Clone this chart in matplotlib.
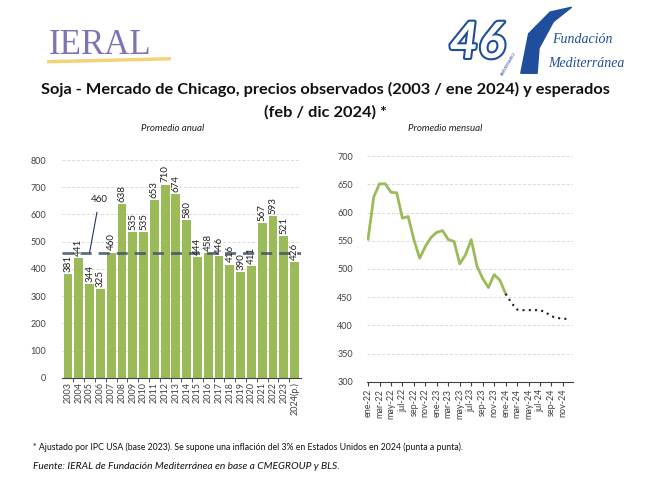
import numpy as np
import matplotlib.pyplot as plt
import matplotlib.patheffects as pe
from matplotlib.patches import Polygon
from matplotlib.ticker import MultipleLocator, FixedLocator

plt.rcParams['font.family'] = ['Lato', 'DejaVu Sans']

# promedio anual
anios = ["2003", "2004", "2005", "2006", "2007", "2008", "2009", "2010", "2011",
         "2012", "2013", "2014", "2015", "2016", "2017", "2018", "2019", "2020",
         "2021", "2022", "2023", "2024(p.)"]
precio_anual = [381, 441, 344, 325, 460, 638, 535, 535, 653, 710, 674, 580,
                444, 458, 446, 416, 390, 411, 567, 593, 521, 426]
promedio = 460

# promedio mensual
meses = ["ene", "feb", "mar", "abr", "may", "jun", "jul", "ago", "sep", "oct", "nov", "dic"]
etiquetas_mes = [m + "-" + a for a in ["22", "23", "24"] for m in meses]
observado = [553, 628, 651, 651, 636, 635, 590, 593, 552, 519, 540, 556,
             565, 568, 552, 549, 509, 525, 552, 505, 483, 467, 490, 480, 456]
esperado = [456, 440, 428, 427, 427, 427, 427, 423, 416, 413, 412, 411]

verde = "#9BBB59"
gris_txt = "#404040"
azul = "#1F4E9C"

fig = plt.figure(figsize=(6.51, 4.82), dpi=100)

# ---- barras
ax1 = fig.add_axes([0.0945, 0.216, 0.368, 0.452])
x = np.arange(len(anios))
ax1.bar(x, precio_anual, width=0.82, color=verde, zorder=2)
ax1.axhline(promedio, color="#44546A", lw=2, dashes=(4, 2.5), zorder=3, alpha=0.85)
for i, v in enumerate(precio_anual):
    ax1.text(i, v + 8, str(v), rotation=90, ha="center", va="bottom",
             fontsize=7, color="#202020", zorder=4)
ax1.annotate(str(promedio), xy=(2, promedio), xytext=(2.9, 655),
             ha="center", va="center", fontsize=7, color="#202020",
             arrowprops=dict(arrowstyle="-", color="#1F3864", lw=0.8, shrinkA=4, shrinkB=0))
ax1.set_xlim(-0.6, len(anios) - 0.4)
ax1.set_ylim(0, 800)
ax1.yaxis.set_major_locator(MultipleLocator(100))
ax1.set_xticks(x)
ax1.set_xticklabels(anios, rotation=90, fontsize=6.5, color=gris_txt)
ax1.xaxis.set_minor_locator(FixedLocator(x[:-1] + 0.5))
ax1.tick_params(axis="x", which="major", length=0, pad=3)
ax1.tick_params(axis="x", which="minor", length=3, color="#404040")
ax1.tick_params(axis="y", length=0, labelsize=6.5, labelcolor=gris_txt, pad=11)
ax1.grid(axis="y", color="#D9D9D9", ls=(0, (3, 2)), lw=0.7, zorder=0)
for s in ["top", "right", "left"]:
    ax1.spines[s].set_visible(False)
ax1.spines["bottom"].set_color("#404040")

# ---- lineas
ax2 = fig.add_axes([0.5636, 0.208, 0.317, 0.468])
xm = np.arange(len(etiquetas_mes))
ax2.plot(xm[:len(observado)], observado, color=verde, lw=2, zorder=3)
ax2.plot(xm[len(observado) - 1:], esperado, color="#202020", lw=1.5, ls=(0, (1, 2)), zorder=3)
ax2.set_xlim(-0.2, 35.8)
ax2.set_ylim(300, 700)
ax2.yaxis.set_major_locator(MultipleLocator(50))
ax2.set_xticks(xm[::2])
ax2.set_xticklabels(etiquetas_mes[::2], rotation=90, fontsize=6.5, color=gris_txt)
ax2.tick_params(axis="x", length=3, color="#404040", pad=2)
ax2.tick_params(axis="y", length=0, labelsize=6.5, labelcolor=gris_txt, pad=10)
ax2.grid(axis="y", color="#D9D9D9", ls=(0, (3, 2)), lw=0.7, zorder=0)
for s in ["top", "right", "left"]:
    ax2.spines[s].set_visible(False)
ax2.spines["bottom"].set_color("#404040")

fig.text(0.265, 0.734, "Promedio anual", fontsize=7, style="italic", color="#202020",
         ha="center", va="center")
fig.text(0.684, 0.734, "Promedio mensual", fontsize=7, style="italic", color="#202020",
         ha="center", va="center")

# ---- titulos y logos
fig.text(0.5, 0.815, "Soja - Mercado de Chicago, precios observados (2003 / ene 2024) y esperados",
         ha="center", va="center", fontsize=11.8, fontweight="bold", color="#111111")
fig.text(0.5, 0.767, "(feb / dic 2024) *", ha="center", va="center",
         fontsize=11.8, fontweight="bold", color="#111111")

fig.text(0.075, 0.905, "IERAL", fontsize=25, family="Liberation Serif", color="#7F72B5",
         va="center", ha="left")
fig.add_artist(plt.Line2D([0.075, 0.26], [0.872, 0.878], color="#F3D27A", lw=2.5))

fig.text(0.733, 0.91, "46", fontsize=36, fontweight="bold", style="italic",
         color="white", va="center", ha="center",
         path_effects=[pe.withStroke(linewidth=3, foreground=azul)])
fig.text(0.782, 0.868, "ANIVERSARIO", fontsize=3, color=azul, rotation=60,
         va="center", ha="center")
fig.add_artist(Polygon([(0.800, 0.848), (0.812, 0.93), (0.845, 0.975), (0.878, 0.985),
                        (0.850, 0.955), (0.828, 0.90), (0.825, 0.848)],
                       closed=True, transform=fig.transFigure, color=azul))
fig.text(0.895, 0.918, "Fundación", fontsize=10, style="italic",
         family="Liberation Serif", color=azul, va="center", ha="center")
fig.text(0.9, 0.868, "Mediterránea", fontsize=10, style="italic",
         family="Liberation Serif", color=azul, va="center", ha="center")

fig.text(0.05, 0.072, "* Ajustado por IPC USA (base 2023). Se supone una inflación del 3% "
         "en Estados Unidos en 2024 (punta a punta).", fontsize=6.3, color="#111111",
         va="center", ha="left")
fig.text(0.05, 0.033, "Fuente: IERAL de Fundación Mediterránea en base a CMEGROUP y BLS.",
         fontsize=7.4, style="italic", color="#111111", va="center", ha="left")

fig.savefig("out.png", dpi=100)
